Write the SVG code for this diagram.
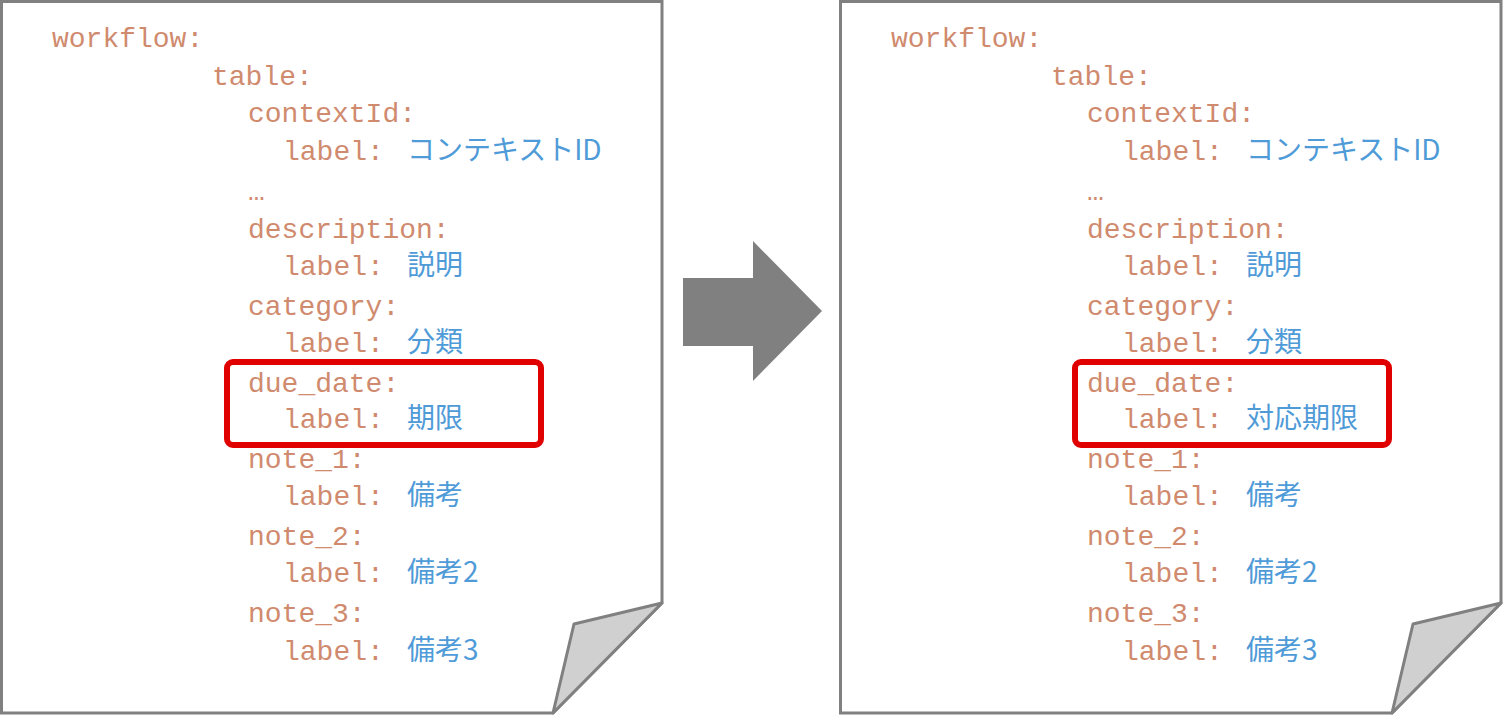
<svg xmlns="http://www.w3.org/2000/svg" width="1503" height="715" viewBox="0 0 1503 715">
<style>
.page{fill:#fff;stroke:#808080;stroke-width:3}
.fold{fill:#d0d0d0;stroke:#808080;stroke-width:3;stroke-linejoin:round}
.k{font-family:"Liberation Mono","DejaVu Sans Mono",monospace;font-size:28px;fill:#d08a6e}
.v{font-family:"Noto Sans CJK JP","Noto Sans",sans-serif;font-size:28px;fill:#4f9bd8}
.hl{fill:none;stroke:#e00000;stroke-width:6}
</style>
<defs>
<g id="doc">
<path class="page" d="M1.5,1.5H662V603L553,713H1.5Z"/>
<path class="fold" d="M662,603L574,624L553,713Z"/>
<text class="k" x="52" y="47">workflow:</text>
<text class="k" x="212" y="85">table:</text>
<text class="k" x="248" y="122">contextId:</text>
<text class="k" x="283" y="160">label:</text>
<text class="v" x="407" y="160">コンテキストID</text>
<text class="k" x="248" y="200">…</text>
<text class="k" x="248" y="238">description:</text>
<text class="k" x="283" y="275">label:</text>
<text class="v" x="407" y="275">説明</text>
<text class="k" x="248" y="315">category:</text>
<text class="k" x="283" y="352">label:</text>
<text class="v" x="407" y="352">分類</text>
<text class="k" x="248" y="392">due_date:</text>
<text class="k" x="283" y="428">label:</text>
<text class="k" x="248" y="468">note_1:</text>
<text class="k" x="283" y="505">label:</text>
<text class="v" x="407" y="505">備考</text>
<text class="k" x="248" y="545">note_2:</text>
<text class="k" x="283" y="582">label:</text>
<text class="v" x="407" y="582">備考2</text>
<text class="k" x="248" y="622">note_3:</text>
<text class="k" x="283" y="660">label:</text>
<text class="v" x="407" y="660">備考3</text>
</g>
</defs>
<g id="before">
<use href="#doc"/>
<text class="v" x="407" y="428">期限</text>
<rect class="hl" x="227" y="362" width="314" height="83" rx="6"/>
</g>
<g id="after" transform="translate(839,0)">
<use href="#doc"/>
<text class="v" x="407" y="428">対応期限</text>
<rect class="hl" x="236" y="362" width="314" height="83" rx="6"/>
</g>
<g id="connectors">
<polygon points="683,278 753,278 753,241 822,311 753,381 753,346 683,346" fill="#808080"/>
</g>
</svg>
